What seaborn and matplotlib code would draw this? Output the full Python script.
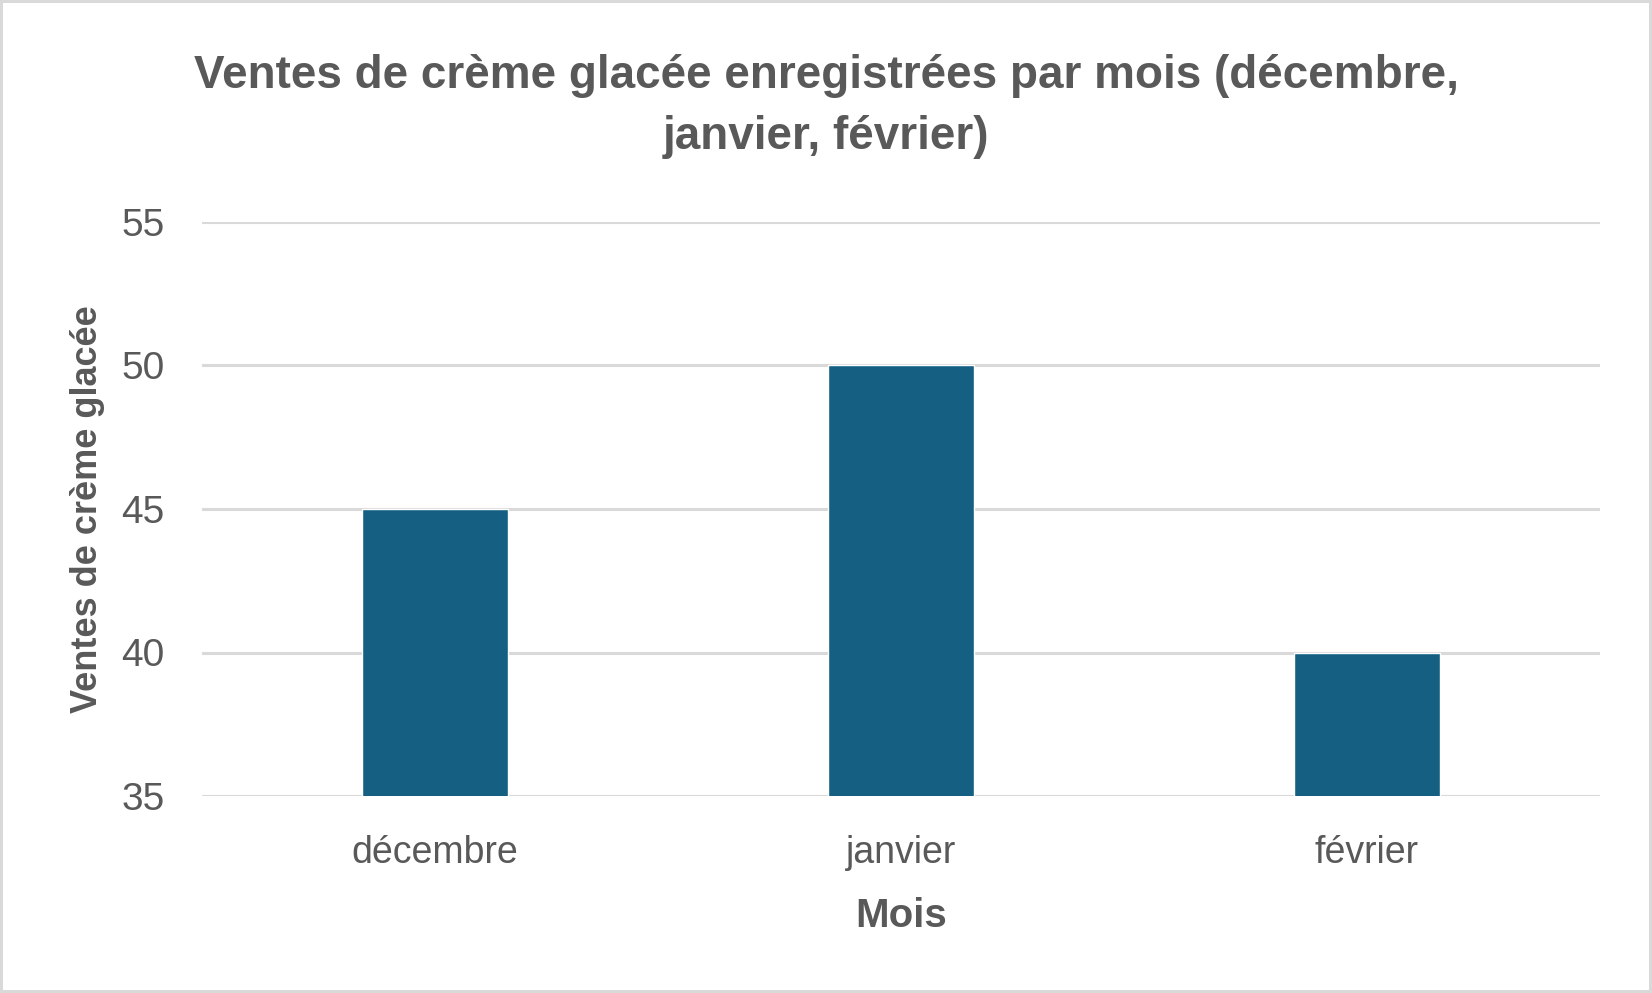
import matplotlib
matplotlib.use("Agg")
import matplotlib.pyplot as plt
import seaborn as sns
import pandas as pd

months = ["décembre", "janvier", "février"]
sales = [45, 50, 40]
yticks = [35, 40, 45, 50, 55]

title = "Ventes de crème glacée enregistrées par mois (décembre,\njanvier, février)"
xlabel = "Mois"
ylabel = "Ventes de crème glacée"

sns.set_theme(style="white")
plt.rcParams["font.family"] = ["Liberation Sans", "DejaVu Sans"]

TEXT = "#595959"
BAR = "#156082"
GRID = "#d9d9d9"

df = pd.DataFrame({"Mois": months, "Ventes": sales})

fig = plt.figure(figsize=(16.52, 9.93), dpi=100)
fig.patch.set_facecolor("white")
fig.patch.set_edgecolor("#d9d9d9")
fig.patch.set_linewidth(3)
ax = fig.add_axes([202/1652, 1 - 796/993, (1600-202)/1652, (796-222)/993])

sns.barplot(data=df, x="Mois", y="Ventes", color=BAR, width=0.313, ax=ax,
            saturation=1, zorder=3)
ax.set_ylim(35, 55)
ax.set_yticks(yticks)
ax.set_xlim(-0.5, 2.5)
for y in yticks:
    ax.axhline(y, color=GRID, lw=2.2, zorder=1)
for s in ax.spines.values():
    s.set_visible(False)
ax.tick_params(axis="both", length=0, colors=TEXT)
ax.tick_params(axis="y", pad=27, labelsize=28)
ax.tick_params(axis="x", pad=28, labelsize=27)
ax.set_xlabel(xlabel, fontsize=29, fontweight="bold", color=TEXT, labelpad=19)
ax.set_ylabel(ylabel, fontsize=26, fontweight="bold", color=TEXT, labelpad=12)

fig.text(0.5, 1 - 149/993, title, ha="center", va="baseline", fontsize=33,
         fontweight="bold", color=TEXT, linespacing=1.5)

fig.savefig("out.png", dpi=100, facecolor="white", edgecolor=fig.patch.get_edgecolor())
